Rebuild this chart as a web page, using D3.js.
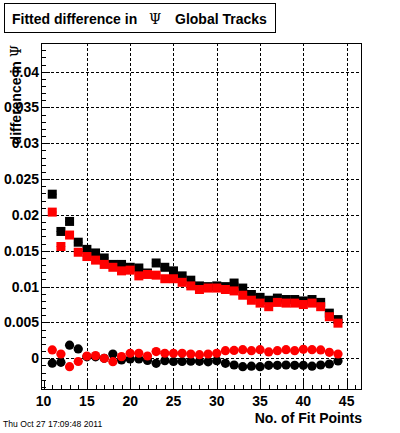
<!DOCTYPE html>
<html><head><meta charset="utf-8">
<script src="https://cdn.jsdelivr.net/npm/d3@7"></script>
<style>body{margin:0;background:#fff}svg{display:block}</style>
</head><body>
<script>
const fitPoints = [11,12,13,14,15,16,17,18,19,20,21,22,23,24,25,26,27,28,29,30,31,32,33,34,35,36,37,38,39,40,41,42,43,44];
const blackSquares = [0.0229,0.0177,0.0191,0.0162,0.0152,0.0147,0.0140,0.0131,0.0131,0.0127,0.0126,0.0119,0.0133,0.0127,0.0122,0.0115,0.0109,0.0101,0.0100,0.0101,0.0100,0.0105,0.0098,0.0089,0.0085,0.0081,0.0084,0.0082,0.0082,0.0080,0.0082,0.0078,0.0063,0.0054];
const redSquares = [0.0204,0.0156,0.0172,0.0148,0.0142,0.0137,0.0131,0.0127,0.0122,0.0123,0.0115,0.0117,0.0116,0.0111,0.0111,0.0106,0.0101,0.0096,0.0098,0.0098,0.0096,0.0094,0.0088,0.0081,0.0077,0.0072,0.0078,0.0077,0.0077,0.0075,0.0077,0.0072,0.0058,0.0049];
const blackCircles = [-0.00068,-0.00056,0.00183,0.0013,0.0002,0.0002,0.0000,0.0006,-0.00024,-0.0001,-0.0001,-0.0003,-0.0007,-0.00033,-0.00045,-0.00045,-0.0004,-0.00042,-0.0005,-0.00033,-0.0007,-0.00094,-0.00117,-0.0011,-0.00117,-0.00098,-0.00098,-0.00094,-0.00098,-0.00098,-0.0011,-0.00094,-0.0008,-0.00038];
const redCircles = [0.00116,0.0006,-0.00117,-0.00045,0.00032,0.00037,0.0000,-0.00047,0.00023,0.0007,0.0007,0.00032,0.00093,0.0007,0.0007,0.0007,0.0006,0.0005,0.0006,0.0007,0.00106,0.0011,0.0012,0.00106,0.0012,0.00088,0.00106,0.0012,0.00106,0.00125,0.0012,0.00116,0.00083,0.0006];
const xTicks = [10,15,20,25,30,35,40,45];
const yTicks = [0,0.005,0.01,0.015,0.02,0.025,0.03,0.035,0.04];
const yTickLabels = ["0","0.005","0.01","0.015","0.02","0.025","0.03","0.035","0.04"];

const W = 400, H = 433;
const svg = d3.select("body").append("svg").attr("width", W).attr("height", H);
svg.append("rect").attr("width", W).attr("height", H).attr("fill", "#fff");

const L = 41, R = 360.5, T = 43.3, B = 389.3;
const x = d3.scaleLinear().domain([9.7, 46.6]).range([L, R]);
const y = d3.scaleLinear().domain([-0.00433, 0.04396]).range([B, T]);
const font = "'Liberation Sans', Arial, Helvetica, sans-serif";

// grid
const grid = svg.append("g").attr("stroke", "#000").attr("stroke-width", 1).attr("stroke-dasharray", "3,2").attr("shape-rendering", "crispEdges");
xTicks.filter(v => v > 10).forEach(v => {
  grid.append("line").attr("x1", Math.round(x(v)) + 0.5).attr("x2", Math.round(x(v)) + 0.5).attr("y1", T).attr("y2", B);
});
yTicks.forEach(v => {
  grid.append("line").attr("y1", Math.round(y(v)) + 0.5).attr("y2", Math.round(y(v)) + 0.5).attr("x1", L).attr("x2", R);
});

// frame
svg.append("rect").attr("x", L + 0.5).attr("y", T + 0.5).attr("width", R - L).attr("height", B - T)
  .attr("fill", "none").attr("stroke", "#000").attr("stroke-width", 1).attr("shape-rendering", "crispEdges");

// ticks
const tk = svg.append("g").attr("stroke", "#000").attr("stroke-width", 1).attr("shape-rendering", "crispEdges");
d3.range(10, 47, 1).forEach(v => {
  const major = v % 5 === 0;
  const px = Math.round(x(v)) + 0.5;
  tk.append("line").attr("x1", px).attr("x2", px).attr("y1", B).attr("y2", B - (major ? 9 : 4.5));
});
d3.range(-4, 44, 1).forEach(i => {
  const v = i / 1000;
  const major = i % 5 === 0;
  const py = Math.round(y(v)) + 0.5;
  tk.append("line").attr("y1", py).attr("y2", py).attr("x1", L).attr("x2", L + (major ? 9 : 4.5));
});

// tick labels
svg.append("g").selectAll("text").data(xTicks).join("text")
  .attr("x", d => x(d)).attr("y", 406).attr("text-anchor", "middle")
  .attr("font-family", font).attr("font-weight", "bold").attr("font-size", 14).text(d => d);
svg.append("g").selectAll("text").data(yTicks).join("text")
  .attr("x", 39).attr("y", d => y(d) + 5).attr("text-anchor", "end")
  .attr("font-family", font).attr("font-weight", "bold").attr("font-size", 14).text((d, i) => yTickLabels[i]);

// axis titles
svg.append("text").attr("x", 362).attr("y", 423).attr("text-anchor", "end")
  .attr("font-family", font).attr("font-weight", "bold").attr("font-size", 14).text("No. of Fit Points");
const yt = svg.append("text").attr("transform", "translate(21,45) rotate(-90)").attr("text-anchor", "end")
  .attr("font-family", font).attr("font-weight", "bold").attr("font-size", 14);
yt.append("tspan").text("difference in ");
yt.append("tspan").attr("font-family", "'DejaVu Serif', serif").attr("font-weight", "normal").text("Ψ");

// markers
function drawSquares(vals, color) {
  const g = svg.append("g");
  g.selectAll("line").data(fitPoints).join("line")
    .attr("x1", d => x(d - 0.5)).attr("x2", d => x(d + 0.5))
    .attr("y1", (d, i) => y(vals[i])).attr("y2", (d, i) => y(vals[i]))
    .attr("stroke", color).attr("stroke-width", 1);
  g.selectAll("rect").data(fitPoints).join("rect")
    .attr("x", d => x(d) - 4.5).attr("y", (d, i) => y(vals[i]) - 4.5)
    .attr("width", 9).attr("height", 9).attr("fill", color);
}
function drawCircles(vals, color) {
  const g = svg.append("g");
  g.selectAll("line").data(fitPoints).join("line")
    .attr("x1", d => x(d - 0.5)).attr("x2", d => x(d + 0.5))
    .attr("y1", (d, i) => y(vals[i])).attr("y2", (d, i) => y(vals[i]))
    .attr("stroke", color).attr("stroke-width", 1);
  g.selectAll("circle").data(fitPoints).join("circle")
    .attr("cx", d => x(d)).attr("cy", (d, i) => y(vals[i])).attr("r", 4.6).attr("fill", color);
}
drawSquares(blackSquares, "#000");
drawSquares(redSquares, "#f00");
drawCircles(blackCircles, "#000");
drawCircles(redCircles, "#f00");

// title box
svg.append("rect").attr("x", 4.5).attr("y", 3.5).attr("width", 271).attr("height", 29)
  .attr("fill", "#fff").attr("stroke", "#000").attr("stroke-width", 1).attr("shape-rendering", "crispEdges");
svg.append("text").attr("x", 12).attr("y", 24).attr("font-family", font).attr("font-weight", "bold").attr("font-size", 14).text("Fitted difference in");
svg.append("text").attr("x", 149).attr("y", 24).attr("font-family", "'DejaVu Serif', serif").attr("font-size", 14).text("Ψ");
svg.append("text").attr("x", 175).attr("y", 24).attr("font-family", font).attr("font-weight", "bold").attr("font-size", 14).text("Global Tracks");

// date
svg.append("text").attr("x", 3).attr("y", 427).attr("font-family", font).attr("font-size", 8.6).text("Thu Oct 27 17:09:48 2011");
</script>
</body></html>
